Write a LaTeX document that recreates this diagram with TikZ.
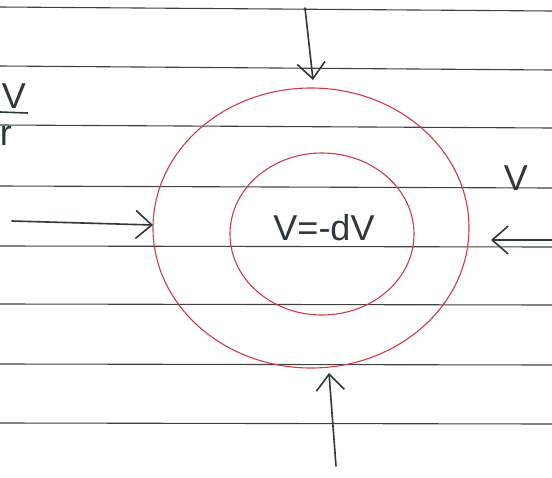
\documentclass[tikz,border=0pt]{standalone}
\usepackage{fontspec}
\setmainfont{Liberation Sans}
\usetikzlibrary{arrows.meta}
\definecolor{pen}{RGB}{45,55,60}
\definecolor{rule}{RGB}{60,65,65}
\definecolor{redpen}{RGB}{205,60,70}
\tikzset{
  ruling/.style={rule, line width=1.1pt},
  arr/.style={pen, line width=1.6pt, line cap=round, -{Straight Barb[length=16pt,width=28pt,line width=1.6pt]}},
  ring/.style={redpen, line width=1.1pt},
  hand/.style={pen, font=\fontsize{36}{38}\selectfont},
}
\begin{document}
\begin{tikzpicture}[x=1pt,y=-1pt]
\useasboundingbox (0,0) rectangle (552,477);
\clip (0,0) rectangle (552,477);
\fill[white] (0,0) rectangle (552,477);
% ruled lines
\foreach \y/\d in {7/4,66/4,125/3,186/2,246/1,304/1,364/1,423/1}
  \draw[ruling] (0,\y) -- (552,\y+\d);
% rings
\draw[ring] (311,228) ellipse [x radius=158, y radius=140];
\draw[ring] (322,234) ellipse [x radius=92, y radius=81];
% coordinates for arrows
\coordinate (tA) at (305,8);
\coordinate (tB) at (313,80);
\coordinate (lA) at (12,221);
\coordinate (lB) at (153,225);
\coordinate (rA) at (552,240);
\coordinate (rB) at (491,240);
\coordinate (bA) at (336,466);
\coordinate (bB) at (329,373);
\draw[arr] (tA) -- (tB);
\draw[arr] (lA) -- (lB);
\draw[arr] (rA) -- (rB);
\draw[arr] (bA) -- (bB);
% labels
\node[hand, inner sep=0pt] (eq) at (324,228) {V=-dV};
\node[hand, inner sep=0pt] (vr) at (516,178) {V};
\node[hand, anchor=east, inner sep=0pt] (fv) at (26,96) {V};
\draw[pen, line width=1.6pt] (0,112) -- (28,113);
\node[hand, anchor=east, inner sep=0pt] (fr) at (12,136) {r};
\end{tikzpicture}
\end{document}
